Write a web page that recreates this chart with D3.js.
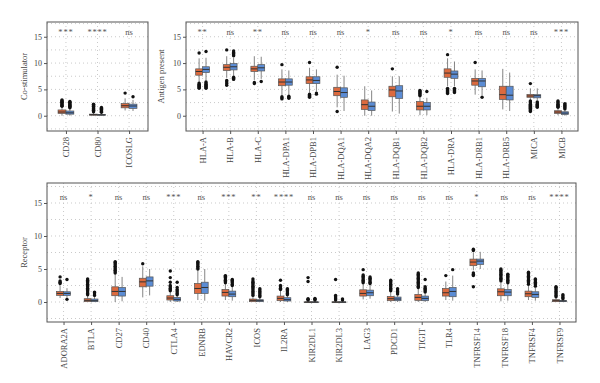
<!DOCTYPE html>
<html><head><meta charset="utf-8">
<script src="https://cdn.jsdelivr.net/npm/d3@7"></script>
<style>body{margin:0;background:#fff}svg{display:block}text{font-family:"Liberation Serif","DejaVu Serif",serif}</style>
</head><body><svg id="c" width="600" height="383"></svg>
<script>
// ---------- Panel 1: Co-stimulator ----------
const costimGenes = ["CD28","CD80","ICOSLG"];
const costimSig = ["***","****","ns"];
// [lower whisker, q1, median, q3, upper whisker]
const costimTumor = [[0.0,0.45,0.7,1.1,1.7],[0.0,0.1,0.2,0.3,0.6],[1.0,1.5,1.9,2.3,3.3]];
const costimNormal = [[0.0,0.3,0.55,0.9,1.4],[0.0,0.1,0.15,0.25,0.5],[0.9,1.4,1.85,2.2,3.0]];
const costimTumorOut = [[1.8,1.95,2.1,2.25,2.4,2.55,2.7,2.85,3.0],[0.75,0.9,1.05,1.2,1.35,1.5,1.65,1.8,1.95,2.1,2.2],[4.3]];
const costimNormalOut = [[1.5,1.65,1.8,1.95,2.1,2.25,2.4,2.55,2.7],[0.65,0.8,0.95,1.1,1.25,1.4,1.55],[3.6]];

// ---------- Panel 2: Antigen present ----------
const antigenGenes = ["HLA-A","HLA-B","HLA-C","HLA-DPA1","HLA-DPB1","HLA-DQA1","HLA-DQA2","HLA-DQB1","HLA-DQB2","HLA-DRA","HLA-DRB1","HLA-DRB5","MICA","MICB"];
const antigenSig = ["**","ns","**","ns","ns","ns","*","ns","ns","*","ns","ns","ns","***"];
const antigenTumor = [[6.4,7.7,8.4,8.9,10.9],[7.2,8.6,9.2,9.7,11.3],[6.8,8.4,8.9,9.4,11.3],[3.9,5.7,6.4,7.0,8.8],[4.4,6.1,6.8,7.4,9.1],[1.6,3.8,4.6,5.4,7.8],[0.0,1.2,2.1,3.0,5.6],[0.8,3.6,4.9,5.6,7.5],[0.1,1.1,1.8,2.7,3.5],[5.6,7.3,8.1,8.9,10.9],[4.0,5.8,6.6,7.1,8.8],[1.2,3.1,4.0,5.6,8.9],[3.0,3.5,3.75,4.05,5.2],[0.1,0.45,0.7,0.95,1.5]];
const antigenNormal = [[6.7,8.2,8.8,9.3,11.0],[7.6,8.7,9.3,9.9,11.0],[7.0,8.5,9.1,9.7,11.2],[4.0,5.8,6.4,7.0,8.6],[4.6,6.1,6.7,7.4,8.8],[0.9,3.5,4.4,5.3,7.6],[0.0,1.0,1.8,2.6,4.8],[0.4,3.3,4.7,5.7,7.5],[0.1,1.1,1.8,2.5,3.4],[5.6,7.1,7.9,8.5,10.3],[3.9,5.5,6.6,7.1,8.6],[0.9,3.0,3.9,5.6,8.2],[3.0,3.4,3.8,4.0,5.2],[0.0,0.25,0.5,0.75,1.2]];
const antigenTumorOut = [[5.2,5.4,5.6,5.8,6.0,6.2,11.9],[5.8,6.1,6.4,6.7,12.5],[6.1,6.3],[3.2,3.4,3.6,9.7],[3.5,3.7,3.9,4.1,10.1],[0.8,9.2],[],[8.9],[3.8,4.0,4.2,4.4,4.6,4.8],[4.2,4.4,4.6,4.8,5.0,5.2,11.6],[10.1],[],[0.8,1.0,1.2,1.4,1.6,1.8,2.0,2.2,2.4,2.6,2.8,6.1],[1.6,1.8,2.0,2.2,2.4,2.6,2.8]];
const antigenNormalOut = [[5.2,5.4,5.6,5.8,6.0,6.2,6.4,12.2],[6.9,7.1,7.3,11.4,11.6,11.8,12.0,12.3],[6.5],[3.3,3.5,3.7],[4.1,4.3],[],[],[],[4.6],[4.4,4.6,4.8,5.0,5.2],[3.5],[],[1.6,1.8,2.0,2.2,2.4,2.6],[1.3,1.5,1.7,1.9,2.1,2.3]];

// ---------- Panel 3: Receptor ----------
const receptorGenes = ["ADORA2A","BTLA","CD27","CD40","CTLA4","EDNRB","HAVCR2","ICOS","IL2RA","KIR2DL1","KIR2DL3","LAG3","PDCD1","TIGIT","TLR4","TNFRSF14","TNFRSF18","TNFRSF4","TNFRSF9"];
const receptorSig = ["ns","*","ns","ns","***","ns","***","**","****","ns","ns","ns","ns","ns","ns","*","ns","ns","****"];
const receptorTumor = [[0.6,1.0,1.3,1.6,2.5],[0,0.05,0.25,0.5,1.0],[0,0.95,1.6,2.3,4.2],[0.7,2.3,3.05,3.6,5.4],[0,0.3,0.6,0.95,1.5],[0.3,1.3,2.05,2.8,4.8],[0.3,0.9,1.45,1.9,2.7],[0,0.05,0.25,0.45,0.9],[0,0.2,0.55,0.9,1.7],[0,0,0,0.02,0.05],[0,0,0,0.02,0.05],[0.4,0.9,1.3,1.85,2.7],[0,0.2,0.5,0.85,1.5],[0,0.25,0.7,1.15,2.0],[0.3,0.9,1.4,2.05,3.1],[4.8,5.5,6.05,6.5,7.5],[0.1,0.95,1.55,2.0,3.0],[0.3,0.8,1.25,1.65,2.5],[0,0.05,0.2,0.35,0.7]];
const receptorNormal = [[0.6,1.0,1.3,1.55,2.1],[0,0.05,0.2,0.45,0.9],[0.1,0.9,1.6,2.2,3.8],[1.0,2.4,3.2,3.8,5.0],[0,0.15,0.4,0.7,1.0],[0.2,1.3,2.2,3.0,5.0],[0.2,0.8,1.2,1.65,2.3],[0,0.05,0.2,0.35,0.7],[0,0.15,0.35,0.65,1.0],[0,0,0,0.02,0.05],[0,0,0,0.02,0.05],[0.5,0.95,1.4,1.8,2.6],[0,0.2,0.45,0.75,1.0],[0,0.2,0.55,0.9,1.3],[0.2,0.8,1.6,2.2,4.0],[5.0,5.7,6.2,6.5,7.6],[0.2,0.95,1.5,1.9,2.8],[0.2,0.7,1.15,1.55,2.2],[0,0.05,0.15,0.25,0.4]];
const receptorTumorOut = [[2.8,3.0,3.2,3.8],[1.1,1.3,1.5,1.7,1.9,2.1,2.3,2.5,2.7,2.9,3.1,3.3,3.5],[4.4,4.6,4.8,5.0,5.2,5.4,5.6,5.8,6.0,6.1],[5.8],[1.7,1.9,2.1,2.3,2.5,3.0,3.7,4.7],[5.0,5.2,5.4,5.6,5.8,6.0,6.1],[2.9,3.1,3.3,3.5,3.7,3.9,4.0],[1.0,1.2,1.4,1.6,1.8,2.0,2.2,2.4,2.6,2.8,3.0,3.2,3.5],[1.9,2.1,2.3,2.5,3.3],[0.3,0.4,0.5,3.1,3.7],[0.3,0.45,0.6,0.8,1.0,3.4],[2.9,3.1,3.3,3.5,3.7,3.9,4.1,4.9],[1.7,1.9,2.1,2.3,2.5,2.7,2.9,3.1,3.3],[2.2,2.4,2.6,2.8,3.0,3.2,3.4,3.6,3.8,4.0,4.2,4.4],[4.0],[7.8,8.0,4.0,4.2,4.4,2.3],[3.2,3.4,3.6,3.8,4.0,4.2,4.4,4.6,4.8,5.0],[2.7,2.9,3.1,3.3,3.5,3.7,3.9,4.1,4.3,4.5],[0.8,1.0,1.2,1.4,1.6,1.8,2.0,2.2,2.3]];
const receptorNormalOut = [[0.4,3.4],[1.0,1.2,1.4,1.5],[],[],[1.1,1.3,1.5,1.7,1.9,2.2,3.0],[],[2.5,2.7,2.9,3.1,3.3,3.4],[0.8,1.0,1.2,1.4,1.6,1.8,2.0],[1.1,1.3,1.5,1.7,1.9,2.0],[0.3,0.4,0.55],[0.3,0.45],[2.8,3.0,3.2,3.4,3.6,3.8],[1.2,1.4,1.6,1.8,2.0],[1.5,1.7,1.9,2.1,2.3,3.4],[4.9],[],[2.9,3.1,3.3,3.5,3.7,3.9,4.1,4.2],[2.4,2.6,2.8,3.0,3.2,3.4,3.5],[0.5,0.7,0.9,1.1]];

const yTicks = [0,5,10,15];
const gridVals = [-2.5,0,2.5,5,7.5,10,12.5,15,17.5];
const tumorColor = "#DC6A3E", normalColor = "#5B8CD4";

const svg = d3.select("#c");

function panel(cfg){
  const {genes, sig, tumor, normal, tumorOut, normalOut, title, left, right, top, bottom, ydom, titleX} = cfg;
  const g = svg.append("g");
  const x = d3.scalePoint().domain(genes).range([left,right]).padding(0.6);
  const y = d3.scaleLinear().domain(ydom).range([bottom,top]);
  const step = x.step();
  const bw = step*0.25;
  // grid
  g.append("g").selectAll("line.h").data(gridVals).join("line")
    .attr("x1",left).attr("x2",right).attr("y1",d=>y(d)).attr("y2",d=>y(d))
    .attr("stroke","#bdbdbd").attr("stroke-width",0.8).attr("stroke-dasharray","1,3");
  g.append("g").selectAll("line.v").data(genes).join("line")
    .attr("x1",d=>x(d)).attr("x2",d=>x(d)).attr("y1",top).attr("y2",bottom)
    .attr("stroke","#bdbdbd").attr("stroke-width",0.8).attr("stroke-dasharray","1,3");
  // boxes
  const groups = [{stats:tumor, out:tumorOut, off:-bw/2, col:tumorColor},{stats:normal, out:normalOut, off:bw/2, col:normalColor}];
  groups.forEach(gr=>{
    const gg = g.append("g");
    genes.forEach((gene,i)=>{
      const s = gr.stats[i];
      const cx = x(gene)+gr.off;
      gg.append("line").attr("x1",cx).attr("x2",cx).attr("y1",y(s[0])).attr("y2",y(s[1])).attr("stroke","#666").attr("stroke-width",0.8);
      gg.append("line").attr("x1",cx).attr("x2",cx).attr("y1",y(s[3])).attr("y2",y(s[4])).attr("stroke","#666").attr("stroke-width",0.8);
      gg.append("rect").attr("x",cx-bw/2).attr("width",bw).attr("y",y(s[3])).attr("height",Math.max(0.8,y(s[1])-y(s[3])))
        .attr("fill",gr.col).attr("stroke","#555").attr("stroke-width",0.7);
      gg.append("line").attr("x1",cx-bw/2).attr("x2",cx+bw/2).attr("y1",y(s[2])).attr("y2",y(s[2])).attr("stroke","#333").attr("stroke-width",1);
      gg.selectAll(null).data(gr.out[i]).join("circle").attr("cx",cx).attr("cy",d=>y(d)).attr("r",1.7).attr("fill","#111");
    });
  });
  // significance
  g.append("g").selectAll("text").data(genes).join("text")
    .attr("x",d=>x(d)).attr("y",y(15.9)).attr("dy","0.35em").attr("text-anchor","middle")
    .attr("font-size",8.5).attr("letter-spacing",(d,i)=>sig[i]==="ns"?0:0.8).attr("fill","#555").text((d,i)=>sig[i]);
  // frame
  g.append("rect").attr("x",left).attr("y",top).attr("width",right-left).attr("height",bottom-top)
    .attr("fill","none").attr("stroke","#555").attr("stroke-width",1);
  // y axis
  const ya = g.append("g").attr("transform",`translate(${left},0)`).call(d3.axisLeft(y).tickValues(yTicks).tickSize(3).tickPadding(2));
  ya.select(".domain").remove();
  ya.selectAll("line").attr("stroke","#555");
  ya.selectAll("text").attr("font-size",8).attr("fill","#444").attr("font-family","Liberation Serif, serif");
  // x axis
  const xa = g.append("g").attr("transform",`translate(0,${bottom})`).call(d3.axisBottom(x).tickSize(3));
  xa.select(".domain").remove();
  xa.selectAll("line").attr("stroke","#555");
  xa.selectAll("text").attr("font-size",8.5).attr("fill","#444").attr("font-family","Liberation Serif, serif")
    .attr("transform","rotate(-90)").attr("text-anchor","end").attr("x",-6).attr("y",0).attr("dy","0.32em");
  // title
  g.append("text").attr("transform",`translate(${titleX},${(top+bottom)/2}) rotate(-90)`)
    .attr("text-anchor","middle").attr("font-size",8.5).attr("fill","#444").text(title);
}

panel({genes:costimGenes, sig:costimSig, tumor:costimTumor, normal:costimNormal, tumorOut:costimTumorOut, normalOut:costimNormalOut,
  title:"Co-stimulator", left:47, right:148, top:22, bottom:131, ydom:[-2.9,17.8], titleX:27});
panel({genes:antigenGenes, sig:antigenSig, tumor:antigenTumor, normal:antigenNormal, tumorOut:antigenTumorOut, normalOut:antigenNormalOut,
  title:"Antigen present", left:186, right:578, top:22, bottom:131, ydom:[-2.9,17.8], titleX:164});
panel({genes:receptorGenes, sig:receptorSig, tumor:receptorTumor, normal:receptorNormal, tumorOut:receptorTumorOut, normalOut:receptorNormalOut,
  title:"Receptor", left:47, right:576, top:183, bottom:322, ydom:[-3.03,18.03], titleX:27});
</script></body></html>
